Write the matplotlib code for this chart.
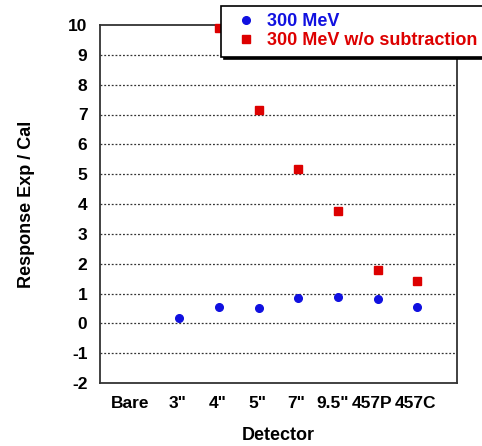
import numpy as np
import matplotlib
matplotlib.use('Agg')
import matplotlib.pyplot as plt
import matplotlib.transforms as mtransforms

plt.rcParams['font.family'] = ['Liberation Sans', 'DejaVu Sans']
plt.rcParams['font.weight'] = 'bold'
plt.rcParams['axes.unicode_minus'] = False

#detector names and the two response ratios
detectors = ['Bare', '3"', '4"', '5"', '7"', '9.5"', '457P', '457C']
resp_300 = [np.nan, 0.18, 0.55, 0.51, 0.85, 0.88, 0.81, 0.55]
resp_300_nosub = [np.nan, np.nan, 9.89, 7.15, 5.18, 3.75, 1.79, 1.42]

xpos = np.arange(1, len(detectors) + 1)

fig = plt.figure(figsize=(4.82, 4.46), dpi=100)
ax = fig.add_axes([100/482, 1 - 383/446, 357/482, 358/446])

ax.plot(xpos, resp_300, 'o', color='#1010e0', markersize=5.5, linestyle='', label='300 MeV', clip_on=False, zorder=3)
ax.plot(xpos, resp_300_nosub, 's', color='#dd0000', markersize=5.5, linestyle='', label='300 MeV w/o subtraction', clip_on=False, zorder=3)

ax.set_xlim(0, 9)
ax.set_ylim(-2, 10)
ax.set_yticks(range(-2, 11))
ax.set_xticks(xpos)
ax.set_xticklabels(detectors)
ax.tick_params(axis='y', length=0, labelsize=12.5, pad=9)
ax.tick_params(axis='x', length=0, labelsize=12.5, pad=9)
#the labels in the original sit a little left of their points
shifts = [-10, -2, -1, -1, -2, -5, -6, -2]
for lab, dx in zip(ax.get_xticklabels(), shifts):
    lab.set_transform(lab.get_transform() + mtransforms.ScaledTranslation(dx/100, 0, fig.dpi_scale_trans))
for y in range(-1, 10):
    ax.axhline(y, color='#333333', linestyle=(0, (1.5, 1.5)), linewidth=0.9, zorder=1)
for sp in ax.spines.values():
    sp.set_color('#333333')
    sp.set_linewidth(1.3)

ax.set_ylabel('Response Exp / Cal', fontsize=13, fontweight='bold', labelpad=24)
ax.set_xlabel('Detector', fontsize=13, fontweight='bold', labelpad=12)

leg = fig.legend(loc='upper left', bbox_to_anchor=(221/482, 1 - 6/446), borderaxespad=0,
                 fontsize=13, handletextpad=0.15, handlelength=2.0, borderpad=0.4,
                 labelspacing=0.12, fancybox=False, edgecolor='black',
                 shadow={'color': 'black', 'alpha': 1})
leg.get_frame().set_linewidth(1.2)
for txt, c in zip(leg.get_texts(), ['#1010e0', '#dd0000']):
    txt.set_color(c)

fig.savefig('out.png', dpi=100)
